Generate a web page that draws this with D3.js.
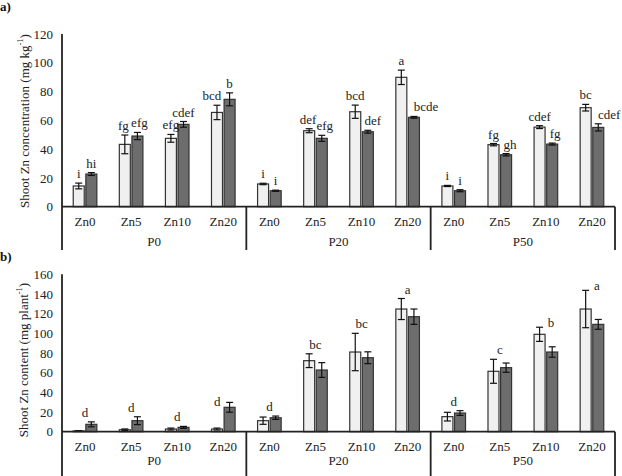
<!DOCTYPE html>
<html><head><meta charset="utf-8">
<script src="https://cdn.jsdelivr.net/npm/d3@7"></script>
<style>
html,body{margin:0;padding:0;background:#fff;}
svg{display:block;font-family:"Liberation Serif","Times New Roman",serif;}
</style></head>
<body>
<svg id="c" width="622" height="476"></svg>
<script>
// ---------- DATA ----------
const groups = ["P0", "P20", "P50"];
const categories = ["Zn0", "Zn5", "Zn10", "Zn20"];

// Panel a) Shoot Zn concentration (mg kg-1)
const concTicks = [0, 20, 40, 60, 80, 100, 120];
const concWhite    = [14.4, 43.3, 47.5, 65.5,  15.8, 52.8, 66.0, 89.9,  14.4, 43.1, 55.3, 68.8];
const concWhiteErr = [2.0, 6.5, 2.7, 5.0,      0.5, 1.4, 4.6, 5.0,      0.4, 0.8, 1.0, 2.3];
const concDark     = [22.7, 49.1, 57.2, 74.6,  11.1, 47.5, 52.1, 62.1,  11.1, 36.1, 43.5, 55.1];
const concDarkErr  = [1.0, 2.5, 2.0, 4.5,      0.4, 2.1, 1.0, 0.6,      0.7, 0.8, 0.7, 2.5];
const concWhiteLetters = ["i", "fg", "efg", "bcd",  "i", "def", "bcd", "a",  "i", "fg", "cdef", "bc"];
const concDarkLetters  = ["hi", "efg", "cdef", "b", "i", "efg", "def", "bcde", "i", "gh", "fg", "cdef"];

// Panel b) Shoot Zn content (mg plant-1)
const contTicks = [0, 20, 40, 60, 80, 100, 120, 140, 160];
const contWhite    = [0.8, 2.0, 2.7, 2.7,     11.2, 72.2, 81.0, 124.7,  15.3, 61.4, 99.0, 124.7];
const contWhiteErr = [0.3, 0.8, 1.0, 1.0,     3.7, 7.0, 19.0, 10.7,     4.4, 12.2, 7.2, 19.0];
const contDark     = [7.5, 11.2, 4.4, 24.8,   14.2, 62.7, 75.2, 116.9,  19.0, 65.1, 81.0, 109.1];
const contDarkErr  = [2.5, 4.0, 1.0, 5.0,     1.7, 7.5, 6.0, 7.8,       2.4, 4.7, 5.3, 5.0];
const contLetters  = ["d", "d", "d", "d",  "d", "bc", "bc", "a",  "d", "c", "b", "a"];

// ---------- LAYOUT ----------
const svg = d3.select("#c");
const X0 = 62, X1 = 615;
const FS = 13;
const keys = [];
groups.forEach(g => categories.forEach(c => keys.push(g + "|" + c)));
const x = d3.scaleBand().domain(keys).range([X0, X1]).padding(0);
const gx = d3.scaleBand().domain(groups).range([X0, X1]).padding(0);
const barW = 11, off = 6.3;
const FILL_W = "#f0f0f0", FILL_D = "#6d6d6d", STROKE = "#333";

// small manual label nudges (layout only); key = 2*category index + (0 white, 1 dark)
const nudgeA = {2: [-1.5, 0], 3: [2, 0], 6: [-5, 0], 10: [-1, 0], 11: [3, 0], 13: [5, 0], 15: [12, 0], 19: [4, 0], 21: [3, 0], 23: [11, 0]};
const nudgeB = {3: [-6, 9], 10: [5, 5], 11: [5, 5]};

function panel(opt) {
  const y = d3.scaleLinear().domain([0, opt.max]).range([opt.y0, opt.yTop]);
  const g = svg.append("g");

  const ax = d3.axisLeft(y).tickValues(opt.ticks).tickSize(0).tickPadding(9).tickFormat(d3.format("d"));
  const axg = g.append("g").attr("transform", `translate(${X0},0)`).call(ax);
  axg.select(".domain").remove();
  axg.selectAll("text").attr("font-family", "Liberation Serif, Times New Roman, serif").attr("font-size", FS).attr("fill", "#222");

  const idx = d3.range(keys.length);
  const bars = [];
  idx.forEach(i => {
    bars.push({i, k: keys[i], v: opt.white[i], e: opt.whiteErr[i], dx: -off, fill: FILL_W, t: 0});
    bars.push({i, k: keys[i], v: opt.dark[i], e: opt.darkErr[i], dx: off, fill: FILL_D, t: 1});
  });
  const cx = d => x(d.k) + x.bandwidth() / 2 + d.dx;

  g.selectAll("rect.bar").data(bars).join("rect")
    .attr("x", d => cx(d) - barW / 2)
    .attr("y", d => y(d.v))
    .attr("width", barW)
    .attr("height", d => y(0) - y(d.v))
    .attr("fill", d => d.fill)
    .attr("stroke", STROKE).attr("stroke-width", 1.2);

  const eg = g.selectAll("g.err").data(bars).join("g").attr("stroke", "#111").attr("stroke-width", 1.2);
  eg.append("line").attr("x1", cx).attr("x2", cx).attr("y1", d => y(d.v + d.e)).attr("y2", d => y(Math.max(0, d.v - d.e)));
  eg.append("line").attr("x1", d => cx(d) - 3.5).attr("x2", d => cx(d) + 3.5).attr("y1", d => y(d.v + d.e)).attr("y2", d => y(d.v + d.e));
  eg.append("line").attr("x1", d => cx(d) - 3.5).attr("x2", d => cx(d) + 3.5).attr("y1", d => y(Math.max(0, d.v - d.e))).attr("y2", d => y(Math.max(0, d.v - d.e)));

  if (opt.perBar) {
    g.selectAll("text.let").data(bars).join("text")
      .attr("x", (d, j) => cx(d) + (nudgeA[j] ? nudgeA[j][0] : 0))
      .attr("y", (d, j) => y(d.v + d.e) - 5 + (nudgeA[j] ? nudgeA[j][1] : 0))
      .attr("text-anchor", "middle").attr("font-size", FS).attr("fill", "#222")
      .text(d => d.t === 0 ? opt.whiteLetters[d.i] : opt.darkLetters[d.i]);
  } else {
    g.selectAll("text.let").data(idx).join("text")
      .attr("x", i => x(keys[i]) + x.bandwidth() / 2 + (nudgeB[i] ? nudgeB[i][0] : 0))
      .attr("y", i => y(Math.max(opt.white[i] + opt.whiteErr[i], opt.dark[i] + opt.darkErr[i])) - 5 + (nudgeB[i] ? nudgeB[i][1] : 0))
      .attr("text-anchor", "middle").attr("font-size", FS).attr("fill", "#222")
      .text(i => opt.letters[i]);
  }

  const ln = g.append("g").attr("stroke", "#222").attr("stroke-width", 1.8).attr("fill", "none");
  ln.append("line").attr("x1", X0).attr("x2", X0).attr("y1", opt.yTop).attr("y2", opt.yEnd);
  ln.append("line").attr("x1", X0).attr("x2", X1).attr("y1", y(0)).attr("y2", y(0));
  groups.forEach((gr, j) => {
    if (j > 0) ln.append("line").attr("x1", gx(gr)).attr("x2", gx(gr)).attr("y1", y(0)).attr("y2", opt.yEnd);
  });
  ln.append("line").attr("x1", X1).attr("x2", X1).attr("y1", y(0)).attr("y2", opt.yEnd);

  g.selectAll("text.cat").data(keys).join("text")
    .attr("x", k => x(k) + x.bandwidth() / 2).attr("y", opt.catY)
    .attr("text-anchor", "middle").attr("dominant-baseline", "central")
    .attr("font-size", FS).attr("fill", "#222")
    .text(k => k.split("|")[1]);
  g.selectAll("text.grp").data(groups).join("text")
    .attr("x", d => gx(d) + gx.bandwidth() / 2).attr("y", opt.grpY)
    .attr("text-anchor", "middle").attr("dominant-baseline", "central")
    .attr("font-size", FS).attr("fill", "#222")
    .text(d => d);

  const tt = g.append("text")
    .attr("transform", `translate(${opt.titleX},${opt.titleY}) rotate(-90)`)
    .attr("text-anchor", "middle").attr("dominant-baseline", "central")
    .attr("font-size", FS).attr("fill", "#222");
  tt.append("tspan").text(opt.title[0]);
  tt.append("tspan").attr("font-size", 8.5).attr("dy", -4).text(opt.title[1]);
  tt.append("tspan").attr("dy", 4).text(opt.title[2]);

  g.append("text").attr("x", 0).attr("y", opt.letterY).attr("font-size", 13).attr("font-weight", "bold").attr("fill", "#111").text(opt.letter);
}

panel({
  max: 120, ticks: concTicks, y0: 206.7, yTop: 34, yEnd: 250,
  white: concWhite, whiteErr: concWhiteErr, dark: concDark, darkErr: concDarkErr,
  perBar: true, whiteLetters: concWhiteLetters, darkLetters: concDarkLetters,
  catY: 221, grpY: 241.5, titleX: 24, titleY: 121,
  title: ["Shoot Zn concentration (mg kg", "-1", ")"], letter: "a)", letterY: 11
});

panel({
  max: 160, ticks: contTicks, y0: 431.7, yTop: 274.3, yEnd: 476,
  white: contWhite, whiteErr: contWhiteErr, dark: contDark, darkErr: contDarkErr,
  perBar: false, letters: contLetters,
  catY: 446, grpY: 460, titleX: 23, titleY: 360,
  title: ["Shoot Zn content (mg plant", "-1", ")"], letter: "b)", letterY: 261
});
</script>
</body></html>
